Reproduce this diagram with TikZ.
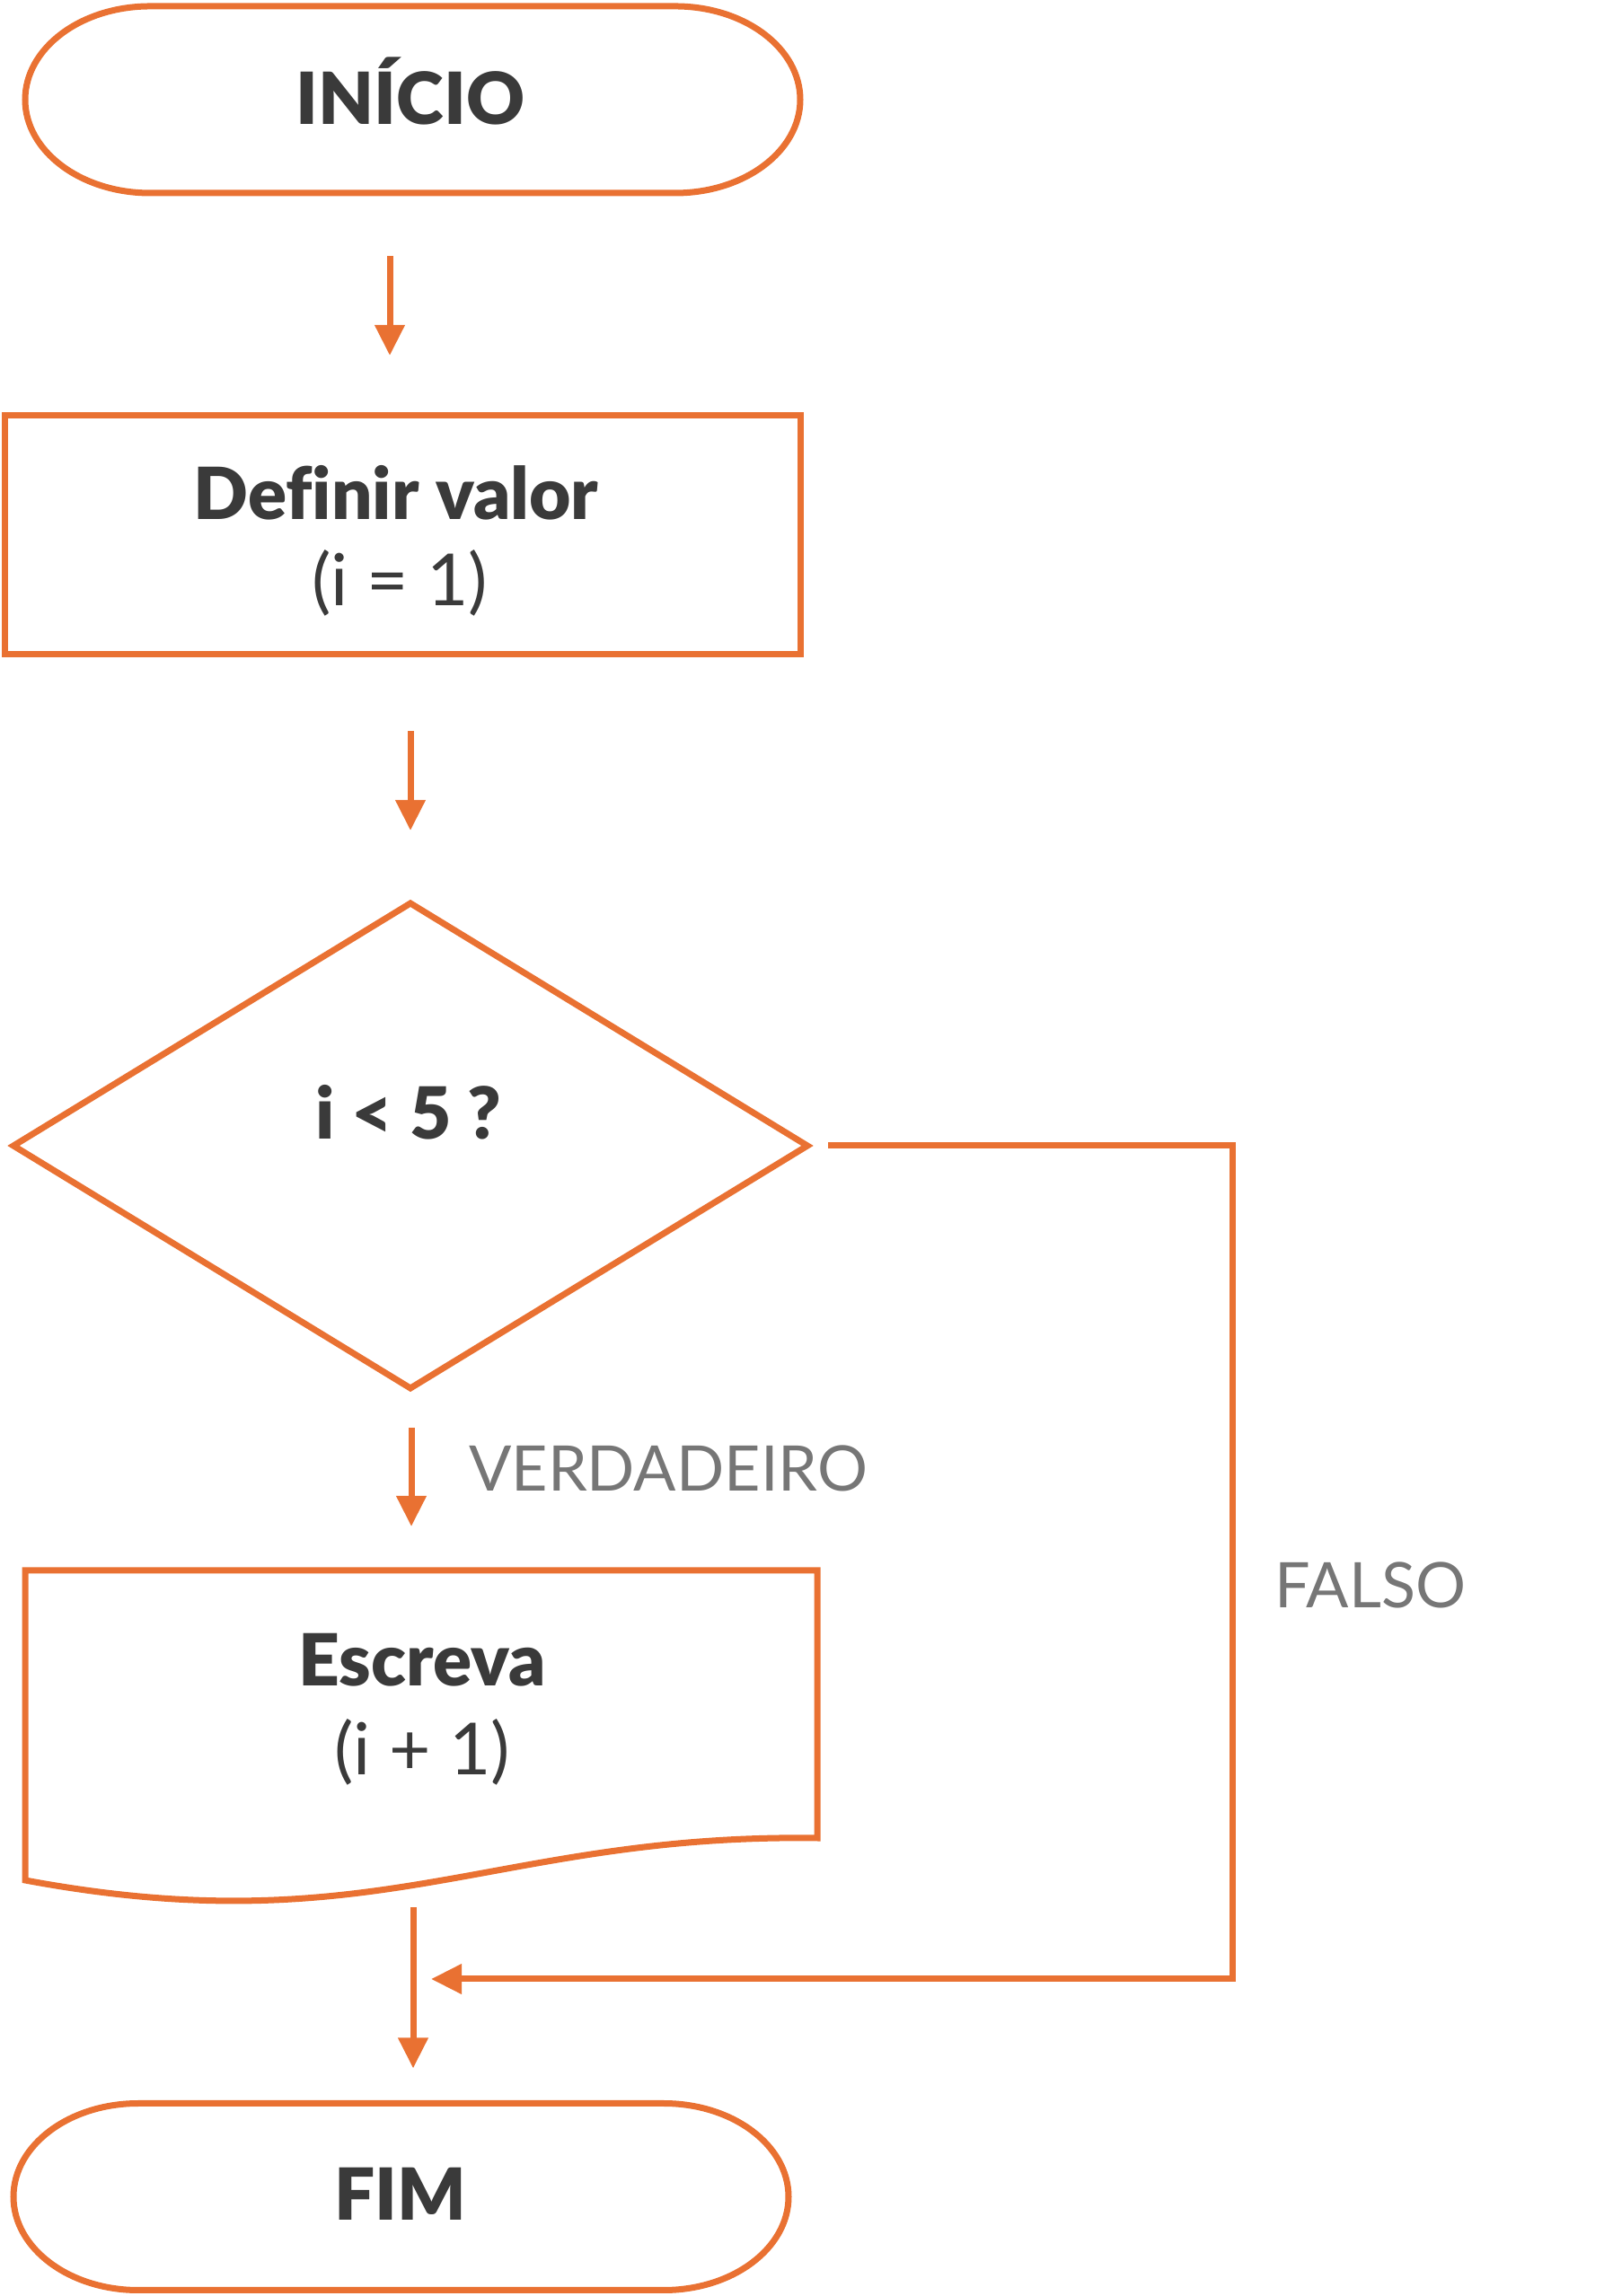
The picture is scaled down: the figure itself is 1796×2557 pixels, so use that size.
\documentclass[tikz,border=0pt]{standalone}
\usepackage{fontspec}
\setmainfont{Lato}[Ligatures=NoCommon]
\IfFontExistsTF{Lato Black}{\newfontfamily\heavy{Lato Black}[Ligatures=NoCommon]}{\newcommand\heavy{\bfseries}}
\usetikzlibrary{arrows.meta,calc}
\definecolor{orng}{HTML}{E97132}
\definecolor{ink}{HTML}{3A3A3A}
\definecolor{lbl}{HTML}{767676}
\begin{document}
\begin{tikzpicture}[x=1pt,y=1pt,
  shp/.style={draw=orng,line width=7pt},
  frame/.style={draw=none,inner sep=0pt,outer sep=0pt},
  conn/.style={draw=orng,line width=7pt,-{Triangle[width=32pt,length=34pt]}},
  boldtxt/.style={text=ink,inner sep=0pt,anchor=base,font=\fontsize{80}{96}\selectfont\heavy},
  regtxt/.style={text=ink,inner sep=0pt,anchor=base,font=\fontsize{80}{96}\selectfont},
  lbltxt/.style={text=lbl,inner sep=0pt,anchor=base west,font=\fontsize{70}{84}\selectfont}
]
\useasboundingbox (0,0) rectangle (1796,2557);

% start terminal
\node[frame,minimum width=863pt,minimum height=208pt] (start) at (459.5,2446) {};
\draw[shp] ([xshift=139pt]start.north west) -- ([xshift=-139pt]start.north east)
  arc[start angle=90,end angle=-90,x radius=139,y radius=104]
  -- ([xshift=139pt]start.south west)
  arc[start angle=270,end angle=90,x radius=139,y radius=104] -- cycle;
\node[boldtxt] (starttxt) at (457,2418) {INÍCIO};

% process box
\node[shp,frame,draw=orng,minimum width=886pt,minimum height=266pt] (def) at (448,1961) {};
\node[boldtxt] (deftxt1) at (441,1978) {Definir valor};
\node[regtxt] (deftxt2) at (445,1882) {(i = 1)};

% decision
\node[frame,minimum width=884pt,minimum height=540pt] (dec) at (457,1281) {};
\draw[shp,line join=miter] (dec.west) -- (dec.north) -- (dec.east) -- (dec.south) -- cycle;
\node[boldtxt] (dectxt) at (455,1288) {i < 5 ?};

% document (output)
\node[frame,minimum width=882pt,minimum height=345pt] (doc) at (469,635.5) {};
\draw[shp] (doc.south west) -- (doc.north west) -- (doc.north east) -- (910,510)
  .. controls (550,515) and (420,390) .. (doc.south west) -- cycle;
\node[boldtxt] (doctxt1) at (470,679.5) {Escreva};
\node[regtxt] (doctxt2) at (470,580) {(i + 1)};

% end terminal
\node[frame,minimum width=863pt,minimum height=208pt] (end) at (446.5,110.5) {};
\draw[shp] ([xshift=139pt]end.north west) -- ([xshift=-139pt]end.north east)
  arc[start angle=90,end angle=-90,x radius=139,y radius=104]
  -- ([xshift=139pt]end.south west)
  arc[start angle=270,end angle=90,x radius=139,y radius=104] -- cycle;
\node[boldtxt] (endtxt) at (446,84) {FIM};

% connectors
\draw[conn,shorten <=70pt,shorten >=67pt] ([xshift=-25.5pt]start.south) -- ([xshift=-14pt]def.north);
\draw[conn,shorten <=85pt,shorten >=81pt] ([xshift=9pt]def.south) -- ([xshift=0pt]dec.north);
\draw[conn,shorten <=44pt,shorten >=49pt] ([xshift=1pt]dec.south) -- ([xshift=-11pt]doc.north);
\draw[conn,shorten <=30pt,shorten >=39pt] ([xshift=-9pt]doc.south) -- ([xshift=13.5pt]end.north);

\coordinate (fc) at (1372,353);
\coordinate (merge) at (460,353);
\draw[conn,line join=miter,shorten <=23pt,shorten >=20pt] (dec.east) -- (dec.east -| fc) -- (fc) -- (merge);

% labels
\node[lbltxt] (vlabel) at (522,896.5) {VERDADEIRO};
\node[lbltxt] (flabel) at (1419,766) {FALSO};
\end{tikzpicture}
\end{document}
